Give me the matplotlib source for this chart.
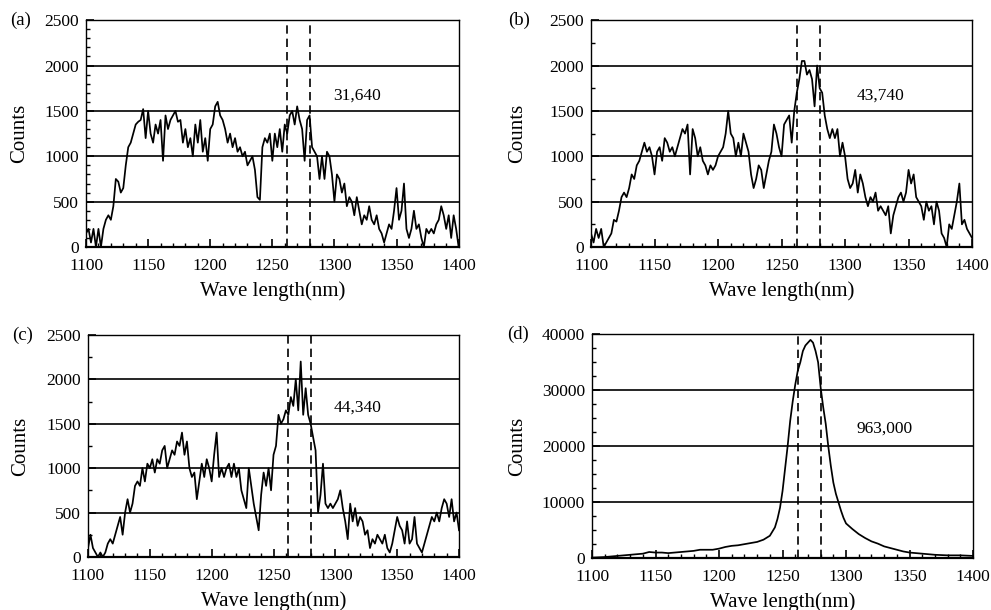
import numpy as np
import matplotlib
matplotlib.use("Agg")
import matplotlib.pyplot as plt
from matplotlib.ticker import MultipleLocator

plt.rcParams['font.family'] = ['Liberation Serif', 'DejaVu Serif']

# wavelength grid for noisy spectra (nm)
wl = np.arange(1100, 1401, 2)

counts_a = [150, 200, 50, 200, 0, 200, 0, 200, 300, 350, 300, 450, 750, 720, 600, 650,
            900, 1100, 1150, 1250, 1350, 1380, 1400, 1520, 1200, 1500, 1250, 1150, 1350, 1250,
            1400, 950, 1450, 1300, 1400, 1450, 1500, 1380, 1400, 1150, 1300, 1100, 1200, 1000,
            1350, 1150, 1400, 1050, 1200, 950, 1300, 1350, 1550, 1600, 1450, 1400, 1300, 1150,
            1250, 1100, 1200, 1050, 1100, 1000, 1050, 900, 950, 1000, 850, 550, 520, 1100,
            1200, 1150, 1250, 950, 1250, 1100, 1300, 1050, 1350, 1250, 1450, 1500, 1350, 1550,
            1400, 1300, 950, 1400, 1450, 1100, 1050, 1000, 750, 1000, 750, 1050, 1000, 800,
            500, 800, 750, 600, 700, 450, 550, 500, 350, 550, 400, 250, 350, 300, 450, 300,
            250, 350, 200, 150, 50, 150, 250, 200, 400, 650, 300, 400, 700, 200, 100, 200,
            400, 200, 250, 100, 0, 200, 150, 200, 150, 250, 300, 450, 350, 200, 350, 100,
            350, 200, 0]

counts_b = [150, 50, 200, 100, 200, 0, 50, 100, 150, 300, 280, 400, 550, 600, 550, 650,
            800, 750, 900, 950, 1050, 1150, 1050, 1100, 1000, 800, 1050, 1100, 950, 1200,
            1150, 1050, 1100, 1000, 1100, 1200, 1300, 1250, 1350, 800, 1300, 1200, 1000, 1100,
            950, 900, 800, 900, 850, 900, 1000, 1050, 1100, 1250, 1500, 1250, 1200, 1000,
            1150, 1000, 1250, 1150, 1050, 800, 650, 750, 900, 850, 650, 800, 950, 1050,
            1350, 1250, 1100, 1000, 1350, 1400, 1450, 1150, 1500, 1700, 1850, 2050, 2050, 1900,
            1950, 1850, 1550, 2000, 1750, 1700, 1450, 1300, 1200, 1300, 1200, 1300, 1000, 1150,
            1000, 750, 650, 700, 850, 600, 800, 700, 550, 450, 550, 500, 600, 400, 450, 400,
            350, 450, 150, 350, 450, 550, 600, 500, 600, 850, 700, 800, 550, 500, 450, 300,
            500, 400, 450, 250, 500, 400, 150, 100, 0, 250, 200, 350, 500, 700, 250, 300,
            200, 150, 100]

counts_c = [100, 250, 100, 50, 0, 50, 0, 50, 150, 200, 150, 250, 350, 450, 250, 500,
            650, 500, 600, 800, 850, 800, 1000, 850, 1050, 1000, 1100, 950, 1100, 1050,
            1200, 1250, 1000, 1100, 1200, 1150, 1300, 1250, 1400, 1150, 1300, 1000, 900, 950,
            650, 850, 1050, 900, 1100, 1000, 850, 1150, 1400, 900, 1000, 900, 1000, 1050,
            900, 1050, 900, 1000, 750, 650, 550, 1000, 800, 600, 450, 300, 700, 950,
            800, 1000, 750, 1150, 1250, 1600, 1500, 1550, 1650, 1600, 1800, 1700, 2000, 1650,
            2200, 1600, 1900, 1600, 1500, 1350, 1200, 500, 700, 1050, 600, 550, 600, 550,
            600, 650, 750, 550, 400, 200, 600, 400, 550, 350, 450, 400, 250, 300, 100, 200,
            150, 250, 200, 150, 250, 100, 50, 150, 300, 450, 350, 300, 150, 400, 150, 200,
            450, 150, 100, 50, 150, 250, 350, 450, 400, 500, 400, 550, 650, 600, 450, 650,
            400, 500, 300]

# smooth spectrum (d)
wl_d = [1100, 1110, 1120, 1130, 1140, 1145, 1150, 1155, 1160, 1165, 1170, 1175, 1180,
        1185, 1190, 1195, 1200, 1205, 1210, 1215, 1220, 1225, 1230, 1235, 1240, 1244,
        1246, 1248, 1250, 1252, 1254, 1256, 1258, 1260, 1262, 1264, 1266, 1268, 1270,
        1272, 1274, 1276, 1278, 1280, 1282, 1284, 1286, 1288, 1290, 1292, 1294, 1296,
        1298, 1300, 1305, 1310, 1315, 1320, 1325, 1330, 1335, 1340, 1345, 1350, 1355,
        1360, 1370, 1380, 1390, 1400]
counts_d = [100, 200, 400, 600, 800, 1100, 1000, 1000, 900, 1000, 1100, 1200, 1300,
            1500, 1500, 1500, 1700, 2000, 2200, 2300, 2500, 2700, 2900, 3300, 4000, 5500,
            7000, 9000, 12000, 16000, 20000, 24500, 28000, 31000, 33500, 35000, 37000,
            38000, 38500, 39000, 38500, 37000, 35000, 30500, 27000, 24000, 20000, 16500,
            13500, 11500, 10000, 8500, 7200, 6200, 5200, 4300, 3600, 3000, 2600, 2100,
            1800, 1500, 1200, 1000, 900, 800, 600, 500, 500, 400]

panel_labels = ['(a)', '(b)', '(c)', '(d)']
totals = ['31,640', '43,740', '44,340', '963,000']
band = [1262, 1280]

fig = plt.figure(figsize=(9.91, 6.10), dpi=100)
rects = [
    [0.0868, 0.595, 0.376, 0.372],
    [0.5964, 0.595, 0.3845, 0.372],
    [0.0888, 0.087, 0.3744, 0.364],
    [0.5974, 0.085, 0.3845, 0.367],
]
ymax = [2500, 2500, 2500, 40000]
ymajor = [500, 500, 500, 10000]
yminor = [100, 250, 250, 2500]
text_pos = [(1318, 1663), (1328, 1666), (1318, 1686), (1330, 23160)]
ylab_x = [-0.153, -0.168, -0.156, -0.17]
plab_x = [-0.204, -0.218, -0.205, -0.223]

series = [(wl, counts_a), (wl, counts_b), (wl, counts_c), (wl_d, counts_d)]

for i in range(4):
    ax = fig.add_axes(rects[i])
    x, y = series[i]
    ax.plot(x, y, color='black', lw=1.25)
    ax.set_xlim(1100, 1400)
    ax.set_ylim(0, ymax[i])
    ax.xaxis.set_major_locator(MultipleLocator(50))
    ax.xaxis.set_minor_locator(MultipleLocator(10))
    ax.yaxis.set_major_locator(MultipleLocator(ymajor[i]))
    ax.yaxis.set_minor_locator(MultipleLocator(yminor[i]))
    ax.tick_params(axis='both', which='major', direction='in', length=6, width=1.2,
                   labelsize=12.5, top=False, right=False)
    ax.tick_params(axis='both', which='minor', direction='in', length=3, width=1.0,
                   top=False, right=False)
    ax.tick_params(axis='x', which='major', pad=8)
    ax.tick_params(axis='y', which='major', pad=5)
    ax.grid(axis='y', which='major', color='black', lw=1.2)
    ax.set_axisbelow(False)
    for s in ax.spines.values():
        s.set_linewidth(1.0)
        s.set_color('black')
    ax.spines['bottom'].set_linewidth(1.6)
    for b in band:
        ax.axvline(b, color='black', lw=1.2, ls=(0, (5, 3)))
    ax.text(text_pos[i][0], text_pos[i][1], totals[i], fontsize=12.5,
            ha='center', va='center')
    ax.set_xlabel('Wave length(nm)', fontsize=15, labelpad=5)
    ax.set_ylabel('Counts', fontsize=15)
    ax.yaxis.set_label_coords(ylab_x[i], 0.5)
    ax.text(plab_x[i], 1.0, panel_labels[i], transform=ax.transAxes,
            fontsize=13.5, ha='left', va='center')

fig.savefig('out.png', dpi=100)
